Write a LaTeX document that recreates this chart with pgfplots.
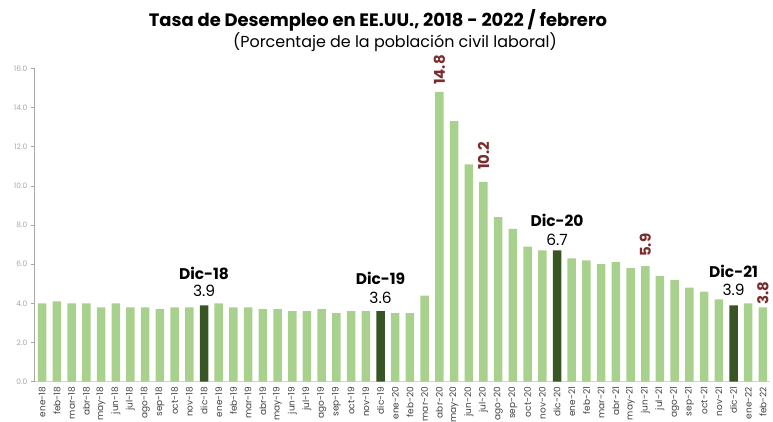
\documentclass[border=0pt]{standalone}
\usepackage{fontspec}
\setmainfont{Poppins}
\usepackage{pgfplots}
\pgfplotsset{compat=1.18}
\definecolor{lgreen}{HTML}{A9D18E}
\definecolor{dgreen}{HTML}{375623}
\definecolor{dred}{HTML}{7B2C2C}
\definecolor{tickgray}{HTML}{A6A6A6}
\definecolor{labgray}{HTML}{404040}
\begin{document}
\begin{tikzpicture}
\path[use as bounding box] (-34.3bp,-40.3bp) rectangle (738.7bp,381.7bp);
\begin{axis}[
  at={(0,0)}, anchor=south west,
  scale only axis, width=736bp, height=313.4bp,
  xmin=-0.54, xmax=49.5, ymin=0, ymax=16,
  clip=false,
  ybar, bar width=8.5bp, bar shift=0pt,
  axis x line*=bottom, axis y line*=left,
  x axis line style={draw=gray!35, line width=0.8pt},
  y axis line style={draw=gray!70, line width=0.8pt},
  ytick={0,2,...,16},
  ytick style={draw=gray!70, line width=0.6pt},
  major tick length=3.5bp, tick align=outside,
  xtick={0,...,49},
  xtick style={draw=none},
  xticklabels={ene-18,feb-18,mar-18,abr-18,may-18,jun-18,jul-18,ago-18,sep-18,oct-18,nov-18,dic-18,
    ene-19,feb-19,mar-19,abr-19,may-19,jun-19,jul-19,ago-19,sep-19,oct-19,nov-19,dic-19,
    ene-20,feb-20,mar-20,abr-20,may-20,jun-20,jul-20,ago-20,sep-20,oct-20,nov-20,dic-20,
    ene-21,feb-21,mar-21,abr-21,may-21,jun-21,jul-21,ago-21,sep-21,oct-21,nov-21,dic-21,
    ene-22,feb-22},
  xticklabel style={rotate=90, anchor=east, font=\fontsize{9}{10}\selectfont, text=labgray, inner sep=1.5bp},
  yticklabel style={font=\fontsize{7.5}{8}\selectfont, text=tickgray},
  /pgf/number format/.cd, fixed, fixed zerofill, precision=1, assume math mode=true,
]
\addplot[fill=lgreen, draw=none] coordinates {
 (0,4.0) (1,4.1) (2,4.0) (3,4.0) (4,3.8) (5,4.0) (6,3.8) (7,3.8) (8,3.7) (9,3.8) (10,3.8)
 (12,4.0) (13,3.8) (14,3.8) (15,3.7) (16,3.7) (17,3.6) (18,3.6) (19,3.7) (20,3.5) (21,3.6) (22,3.6)
 (24,3.5) (25,3.5) (26,4.4) (27,14.8) (28,13.3) (29,11.1) (30,10.2) (31,8.4) (32,7.8) (33,6.9) (34,6.7)
 (36,6.3) (37,6.2) (38,6.0) (39,6.1) (40,5.8) (41,5.9) (42,5.4) (43,5.2) (44,4.8) (45,4.6) (46,4.2)
 (48,4.0) (49,3.8)
};
\addplot[fill=dgreen, draw=none] coordinates {(11,3.9) (23,3.6) (35,6.7) (47,3.9)};
% annotations
\begin{scope}[every node/.style={inner sep=0pt, font=\fontsize{15.5}{16}\selectfont}]
\node[font=\bfseries\fontsize{15.5}{16}\selectfont] at (axis cs:11,5.55) {Dic-18};
\node at (axis cs:11,4.63) {3.9};
\node[font=\bfseries\fontsize{15.5}{16}\selectfont] at (axis cs:23,5.29) {Dic-19};
\node at (axis cs:23,4.27) {3.6};
\node[font=\bfseries\fontsize{15.5}{16}\selectfont] at (axis cs:35,8.25) {Dic-20};
\node at (axis cs:35,7.23) {6.7};
\node[font=\bfseries\fontsize{15.5}{16}\selectfont] at (axis cs:47,5.62) {Dic-21};
\node at (axis cs:47,4.68) {3.9};
\end{scope}
\begin{scope}[every node/.style={inner sep=0pt, rotate=90, anchor=west, text=dred, font=\bfseries\fontsize{15}{16}\selectfont}]
\node at (axis cs:27,15.15) {14.8};
\node at (axis cs:30,10.8) {10.2};
\node at (axis cs:41,6.37) {5.9};
\node at (axis cs:49,3.92) {3.8};
\end{scope}
\end{axis}
\node[font=\bfseries\fontsize{18}{20}\selectfont] at (343.7bp,361.7bp) {Tasa de Desempleo en EE.UU., 2018 - 2022 / febrero};
\node[font=\fontsize{16}{18}\selectfont] at (360.7bp,339.7bp) {(Porcentaje de la población civil laboral)};
\end{tikzpicture}
\end{document}
